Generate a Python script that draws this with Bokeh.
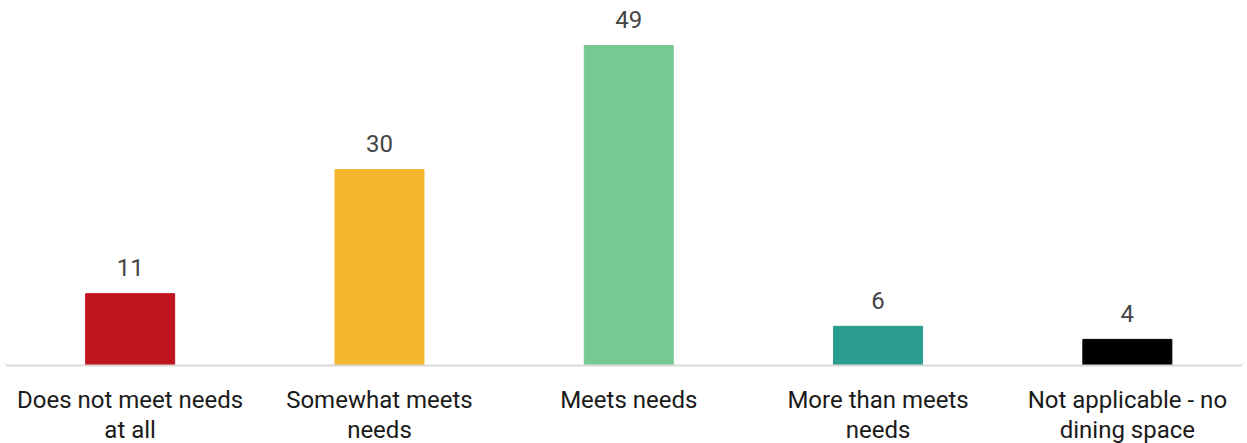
from bokeh.plotting import figure
from bokeh.models import ColumnDataSource, Range1d, Span
from bokeh.core.properties import value
from bokeh.embed import file_html
from bokeh.resources import INLINE

categories = ["Does not meet needs\nat all", "Somewhat meets\nneeds", "Meets needs",
              "More than meets\nneeds", "Not applicable - no\ndining space"]
values = [11, 30, 49, 6, 4]
colors = ["#C0141F", "#F3B72F", "#77C993", "#2A9D8F", "#000000"]

W, H = 1247, 443
border_lr = 5
band_px = 249.3
px_per_unit = 6.53
baseline_px = 365
y_end = baseline_px / px_per_unit
y_start = -(H - baseline_px) / px_per_unit
inner_w = W - 2 * border_lr
x_start = -0.5
x_end = x_start + inner_w / band_px

xs = list(range(len(categories)))
line1 = [c.split("\n")[0] for c in categories]
line2 = [c.split("\n")[1] if "\n" in c else "" for c in categories]

src = ColumnDataSource(dict(x=xs, val=values, color=colors,
                            lab=[str(v) for v in values], l1=line1, l2=line2))

p = figure(width=W, height=H, x_range=Range1d(x_start, x_end), y_range=Range1d(y_start, y_end),
           output_backend="svg", toolbar_location=None,
           min_border_left=border_lr, min_border_right=border_lr,
           min_border_top=0, min_border_bottom=0,
           background_fill_color="white", border_fill_color="white")
p.outline_line_color = None
p.axis.visible = False
p.grid.visible = False

p.vbar(x="x", top="val", bottom=0, width=0.357, color="color", source=src)

p.add_layout(Span(location=0, dimension="width", line_color="#d9d9d9", line_width=2))

font = value("Roboto")
p.text(x="x", y="val", text="lab", source=src, text_align="center",
       text_baseline="alphabetic", y_offset=-26, text_font=font,
       text_font_size="24px", text_color="#454545")

p.text(x="x", y=0, text="l1", source=src, text_align="center",
       text_baseline="alphabetic", y_offset=34, text_font=font,
       text_font_size="24px", text_color="#1a1a1a")
p.text(x="x", y=0, text="l2", source=src, text_align="center",
       text_baseline="alphabetic", y_offset=64, text_font=font,
       text_font_size="24px", text_color="#1a1a1a")

open("out.html", "w").write(file_html(p, INLINE))
